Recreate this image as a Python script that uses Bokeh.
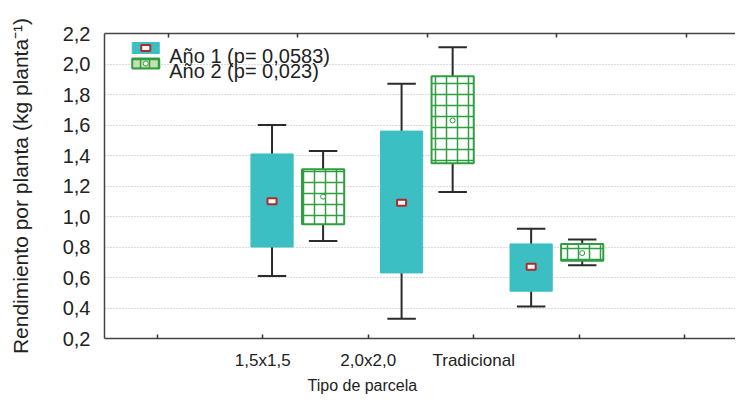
from bokeh.plotting import figure
from bokeh.models import Range1d, LinearAxis, FixedTicker, Title, ColumnDataSource
from bokeh.embed import file_html
from bokeh.resources import INLINE
from bokeh.core.properties import value

# ---- data ----
categories = ["1,5x1,5", "2,0x2,0", "Tradicional"]
series = ["Año 1 (p= 0,0583)", "Año 2 (p= 0,023)"]

y1_low = [0.61, 0.33, 0.41]
y1_q1 = [0.80, 0.63, 0.51]
y1_mean = [1.10, 1.09, 0.67]
y1_q3 = [1.41, 1.56, 0.82]
y1_high = [1.60, 1.87, 0.92]

y2_low = [0.84, 1.16, 0.68]
y2_q1 = [0.95, 1.35, 0.71]
y2_mean = [1.13, 1.63, 0.76]
y2_q3 = [1.31, 1.92, 0.82]
y2_high = [1.43, 2.11, 0.85]

x_label_ticks = [2, 3, 4]
x_tick_labels = ["1,5x1,5", "2,0x2,0", "Tradicional"]
x_blank_ticks = [1, 5, 6]
y_ticks = [0.2, 0.4, 0.6, 0.8, 1.0, 1.2, 1.4, 1.6, 1.8, 2.0, 2.2]
y_tick_labels = ["0,2", "0,4", "0,6", "0,8", "1,0", "1,2", "1,4", "1,6", "1,8", "2,0", "2,2"]

x_title = "Tipo de parcela"
y_title = "Rendimiento por planta (kg planta⁻¹)"

# ---- style / layout ----
FONT = "Liberation Sans"
TXT = "#222222"
TEAL = "#3CBFC3"
GREEN = "#2E9E40"
RED = "#B02A2A"
WH = "#2b2b2b"

g0, gstep = 2.33, 1.228
off, hw, cap = 0.242, 0.2, 0.135
gx = [g0 + i * gstep for i in range(len(categories))]
x1 = [g - off for g in gx]
x2 = [g + off for g in gx]

p = figure(width=735, height=395, x_range=Range1d(0.5, 0.5 + 631 / 105.5),
           y_range=Range1d(0.2, 2.2), output_backend="svg", toolbar_location=None,
           min_border_left=104, min_border_right=0, min_border_top=33, min_border_bottom=57)
p.outline_line_color = None
p.background_fill_color = "white"
p.xgrid.visible = False
p.ygrid.ticker = FixedTicker(ticks=y_ticks[1:-1])
p.ygrid.grid_line_color = "#b5b5b5"
p.ygrid.grid_line_dash = "1 2"
p.ygrid.grid_line_width = 1

ya = p.yaxis[0]
ya.ticker = FixedTicker(ticks=y_ticks)
ya.major_label_overrides = {t: l for t, l in zip(y_ticks, y_tick_labels)}
ya.major_tick_out = 0
ya.major_tick_in = 0
ya.minor_tick_out = 0
ya.minor_tick_in = 0
ya.axis_line_color = "#444444"
ya.axis_line_width = 1.5
ya.major_label_standoff = 14
ya.major_label_text_font = FONT
ya.major_label_text_font_size = "20px"
ya.major_label_text_color = TXT
ya.axis_label = y_title
ya.axis_label_text_font = FONT
ya.axis_label_text_font_size = "21px"
ya.axis_label_text_font_style = "normal"
ya.axis_label_text_color = TXT
ya.axis_label_standoff = 28

xa = p.xaxis[0]
xa.ticker = FixedTicker(ticks=x_label_ticks, minor_ticks=x_blank_ticks)
xa.major_label_overrides = {t: l for t, l in zip(x_label_ticks, x_tick_labels)}
xa.major_tick_out = 0
xa.major_tick_in = 4
xa.minor_tick_out = 0
xa.minor_tick_in = 4
xa.major_tick_line_color = "#333333"
xa.major_tick_line_width = 1.5
xa.minor_tick_line_color = "#333333"
xa.minor_tick_line_width = 1.5
xa.axis_line_color = "#444444"
xa.axis_line_width = 1.5
xa.major_label_standoff = 12
xa.major_label_text_font = FONT
xa.major_label_text_font_size = "17px"
xa.major_label_text_color = TXT

top_ticks = [g0 + k * gstep for k in range(-1, 4)]
ta = LinearAxis(ticker=FixedTicker(ticks=[], minor_ticks=top_ticks),
                major_tick_in=0, major_tick_out=0, minor_tick_in=4, minor_tick_out=0,
                major_label_standoff=0, axis_line_color="#444444", axis_line_width=1.5,
                minor_tick_line_color="#333333", minor_tick_line_width=1.5)
p.add_layout(ta, "above")

# whiskers
for xs, lo, q1, q3, hi in [(x1, y1_low, y1_q1, y1_q3, y1_high), (x2, y2_low, y2_q1, y2_q3, y2_high)]:
    p.segment(x0=xs, y0=q3, x1=xs, y1=hi, line_color=WH, line_width=2)
    p.segment(x0=xs, y0=lo, x1=xs, y1=q1, line_color=WH, line_width=2)
    p.segment(x0=[x - cap for x in xs], y0=hi, x1=[x + cap for x in xs], y1=hi, line_color=WH, line_width=2)
    p.segment(x0=[x - cap for x in xs], y0=lo, x1=[x + cap for x in xs], y1=lo, line_color=WH, line_width=2)

# boxes
p.quad(left=[x - hw for x in x1], right=[x + hw for x in x1], bottom=y1_q1, top=y1_q3,
       fill_color=TEAL, line_color=TEAL, line_width=1)
p.quad(left=[x - hw for x in x2], right=[x + hw for x in x2], bottom=y2_q1, top=y2_q3,
       fill_color="white", hatch_pattern="+", hatch_color=GREEN, hatch_scale=11,
       hatch_weight=1.5, line_color=GREEN, line_width=2)

# means
p.rect(x=x1, y=y1_mean, width=9, height=6, width_units="screen", height_units="screen",
       fill_color="white", line_color=RED, line_width=2)
p.scatter(x=x2, y=y2_mean, marker="circle", size=5, fill_color="white", line_color=GREEN, line_width=1)

# legend (manual)
lx0, lx1 = 0.763, 1.019
p.quad(left=[lx0], right=[lx1], bottom=[2.069], top=[2.141], fill_color=TEAL, line_color=TEAL)
p.rect(x=[(lx0 + lx1) / 2], y=[2.105], width=9, height=6, width_units="screen", height_units="screen",
       fill_color="white", line_color=RED, line_width=2)
p.quad(left=[lx0], right=[lx1], bottom=[1.970], top=[2.036], fill_color="#c8e0b0",
       hatch_pattern="+", hatch_color=GREEN, hatch_scale=9, hatch_weight=1.5,
       line_color=GREEN, line_width=2)
p.scatter(x=[(lx0 + lx1) / 2], y=[2.003], marker="circle", size=5, fill_color="white",
          line_color=GREEN, line_width=1)
leg_src = ColumnDataSource(dict(x=[1.114, 1.114], y=[2.052, 1.953], t=series))
p.text(x="x", y="y", text="t", source=leg_src, text_font=value(FONT), text_font_size="20px",
       text_color=TXT, text_baseline="alphabetic", text_align="left")

# x-axis title (placed as a below-title, offset to match the original position)
p.add_layout(Title(text=x_title, align="left", offset=203, text_font=FONT, text_font_size="16px",
                   text_font_style="normal", text_color=TXT, standoff=4), "below")

open("out.html", "w").write(file_html(p, INLINE))
